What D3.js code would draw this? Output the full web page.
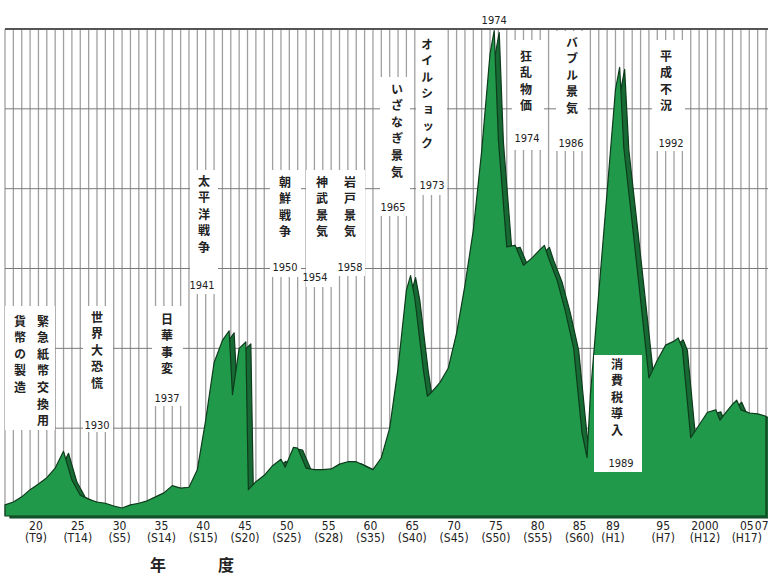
<!DOCTYPE html>
<html>
<head>
<meta charset="utf-8">
<script src="https://cdn.jsdelivr.net/npm/d3@7"></script>
<style>
    body { margin: 0; background: #fff; }
    svg text { font-family: "Liberation Sans Narrow", "DejaVu Sans Condensed", "Liberation Sans", sans-serif; fill: #222; }
    svg text.jp { font-family: "Noto Sans CJK JP", sans-serif; font-weight: bold; }
</style>
</head>
<body>
<div id="field"></div>
<script>

// fiscal year and amount (one grid step = 10)
const years = [1916, 1917, 1918, 1919, 1920, 1921, 1922, 1923, 1924, 1925,
    1926, 1927, 1928, 1929, 1930, 1931, 1932, 1933, 1934, 1935,
    1936, 1937, 1938, 1939, 1940, 1941, 1942, 1942.8, 1943.2, 1944,
    1944.8, 1945.1, 1946, 1947, 1948, 1949, 1949.5, 1950.5, 1951, 1952,
    1953, 1954, 1955, 1956, 1957, 1958, 1959, 1960, 1961, 1962,
    1963, 1964, 1964.5, 1965, 1966, 1966.5, 1967, 1968, 1969, 1970,
    1971, 1972, 1973, 1974, 1974.5, 1975, 1976, 1977, 1978, 1979,
    1980, 1980.5, 1981, 1982, 1983, 1984, 1985, 1985.6, 1986, 1987,
    1988, 1989, 1989.5, 1990, 1991, 1992, 1993, 1994, 1995, 1996,
    1996.5, 1997, 1998, 1999, 2000, 2001, 2001.5, 2002, 2003, 2003.5,
    2004, 2005, 2006, 2007];

const amounts = [0.4, 0.75, 1.4, 2.3, 3.0, 3.8, 5.0, 7.1, 3.5, 1.6,
    1.1, 0.75, 0.6, 0.25, 0.0, 0.4, 0.6, 0.9, 1.4, 1.9,
    2.8, 2.5, 2.6, 4.8, 11.0, 18.2, 21.0, 22.2, 14.2, 20.0,
    20.8, 2.3, 3.3, 4.1, 5.3, 6.1, 5.1, 7.6, 7.5, 5.0,
    4.8, 4.8, 4.9, 5.5, 5.8, 5.8, 5.3, 4.8, 6.3, 10.0,
    17.5, 27.3, 29.1, 26.3, 17.5, 14.0, 14.5, 15.7, 17.5, 21.9,
    27.9, 34.8, 44.7, 56.9, 59.8, 46.1, 32.7, 32.9, 30.4, 31.3,
    32.4, 32.9, 31.3, 28.6, 24.7, 20.0, 9.4, 6.3, 14.2, 26.9,
    39.6, 52.4, 55.2, 45.1, 35.7, 26.1, 16.3, 18.5, 20.4, 20.9,
    21.3, 20.0, 8.8, 10.4, 12.0, 12.3, 11.0, 11.7, 13.0, 13.5,
    12.3, 11.9, 11.8, 11.5];

const tickYears = [1920, 1925, 1930, 1935, 1940, 1945, 1950, 1955, 1960, 1965,
    1970, 1975, 1980, 1985, 1989, 1995, 2000, 2005, 2007];
const tickLabels = ["20", "25", "30", "35", "40", "45", "50", "55", "60", "65",
    "70", "75", "80", "85", "89", "95", "2000", "05", "07"];
const eraLabels = ["(T9)", "(T14)", "(S5)", "(S14)", "(S15)", "(S20)", "(S25)", "(S28)", "(S35)", "(S40)",
    "(S45)", "(S50)", "(S55)", "(S60)", "(H1)", "(H7)", "(H12)", "(H17)", ""];

const gridValues = [10, 20, 30, 40, 50, 60];

const noteTexts = [["緊急紙幣交換用", "貨幣の製造"], ["世界大恐慌"], ["日華事変"], ["太平洋戦争"],
    ["朝鮮戦争"], ["神武景気"], ["岩戸景気"], ["いざなぎ景気"], ["オイルショック"],
    ["狂乱物価"], ["バブル景気"], ["平成不況"], ["消費税導入"]];
const noteYears = ["", "1930", "1937", "1941", "1950", "1954", "1958", "1965", "1973",
    "1974", "1986", "1992", "1989"];
const peakLabel = "1974";

// layout of the white label boxes: box, text columns, top of text, year label position
const noteLayout = [
    {box: [5, 306, 50, 124], cols: [43, 20], top: 315, yx: 0, yy: 0},
    {box: [83, 306, 30, 126], cols: [97], top: 311, yx: 97, yy: 429},
    {box: [152, 306, 31, 100], cols: [167], top: 313, yx: 167, yy: 402},
    {box: [190, 170, 28, 124], cols: [204], top: 175, yx: 202, yy: 289},
    {box: [270, 170, 31, 107], cols: [285], top: 176, yx: 285, yy: 271},
    {box: [306, 170, 29, 117], cols: [322], top: 176, yx: 315, yy: 281},
    {box: [335, 170, 30, 106], cols: [350], top: 176, yx: 350, yy: 271},
    {box: [380, 77, 30, 139], cols: [397], top: 83, yx: 393, yy: 211},
    {box: [416, 30, 31, 165], cols: [427], top: 38, yx: 432, yy: 189},
    {box: [512, 40, 32, 110], cols: [526], top: 50, yx: 527, yy: 142},
    {box: [556, 31, 32, 120], cols: [572], top: 36, yx: 571, yy: 147},
    {box: [652, 40, 33, 111], cols: [666], top: 50, yx: 671, yy: 147},
    {box: [594, 355, 48, 117], cols: [617], top: 358, yx: 621, yy: 467}
];

const width = 768;
const height = 583;
const plotLeft = 5, plotRight = 766, plotTop = 29, plotBottom = 516;

const data = years.map(function(yr, i) { return {year: yr, value: amounts[i]}; });

const x = d3.scaleLinear()
    .domain([1916, 2007])
    .range([plotLeft, plotRight]);

const y = d3.scaleLinear()
    .domain([-1, 60])
    .range([plotBottom, plotTop]);

const chart = d3.select("#field")
    .append("svg")
    .attr("width", width)
    .attr("height", height);

// yearly vertical grid
chart.append("g").selectAll("line")
    .data(d3.range(1916, 2008))
    .enter().append("line")
    .attr("x1", function(d) { return x(d); })
    .attr("x2", function(d) { return x(d); })
    .attr("y1", plotTop)
    .attr("y2", plotBottom)
    .attr("stroke", "#a0a0a0")
    .attr("stroke-width", 1.3);

// horizontal grid
chart.append("g").selectAll("line")
    .data(gridValues)
    .enter().append("line")
    .attr("x1", plotLeft)
    .attr("x2", width)
    .attr("y1", function(d) { return y(d); })
    .attr("y2", function(d) { return y(d); })
    .attr("stroke", function(d) { return d === 60 ? "#555" : "#7a7a7a"; })
    .attr("stroke-width", function(d) { return d === 60 ? 2 : 1; });

const area = d3.area()
    .x(function(d) { return x(d.year); })
    .y0(y(-1))
    .y1(function(d) { return y(d.value); });

// dark side face, pushed right and down
chart.append("path")
    .datum(data)
    .attr("transform", "translate(5,2)")
    .attr("d", area)
    .attr("fill", "#176a34")
    .attr("stroke", "#0e3b1c")
    .attr("stroke-width", 1.2)
    .attr("stroke-linejoin", "round");

chart.append("path")
    .datum(data)
    .attr("d", area)
    .attr("fill", "#20994a")
    .attr("stroke", "#0e3b1c")
    .attr("stroke-width", 1.2)
    .attr("stroke-linejoin", "round");

// x axis
const xAxis = d3.axisBottom(x)
    .tickValues(tickYears)
    .tickFormat(function(d, i) { return tickLabels[i]; })
    .tickSize(0)
    .tickPadding(5);

const axisG = chart.append("g")
    .attr("transform", "translate(0," + plotBottom + ")")
    .call(xAxis);

axisG.select(".domain").remove();
axisG.attr("font-family", null).attr("font-size", null);
axisG.selectAll("text")
    .attr("x", -3)
    .attr("font-size", 12);

axisG.selectAll(".tick")
    .append("text")
    .attr("x", -3)
    .attr("y", 26)
    .attr("text-anchor", "middle")
    .attr("font-size", 12)
    .text(function(d, i) { return eraLabels[i]; });

// last label sits against the right edge
axisG.selectAll(".tick").filter(function(d) { return d === 2007; })
    .select("text")
    .attr("x", 2)
    .attr("text-anchor", "end");

chart.append("text")
    .attr("class", "jp")
    .attr("x", 158)
    .attr("y", 571)
    .attr("text-anchor", "middle")
    .attr("font-size", 16)
    .text("年");

chart.append("text")
    .attr("class", "jp")
    .attr("x", 226)
    .attr("y", 571)
    .attr("text-anchor", "middle")
    .attr("font-size", 16)
    .text("度");

chart.append("text")
    .attr("x", x(1974.5))
    .attr("y", 24)
    .attr("text-anchor", "middle")
    .attr("font-size", 11)
    .text(peakLabel);

// event labels
const notes = chart.append("g").selectAll("g")
    .data(noteLayout)
    .enter().append("g");

notes.append("rect")
    .attr("x", function(d) { return d.box[0]; })
    .attr("y", function(d) { return d.box[1]; })
    .attr("width", function(d) { return d.box[2]; })
    .attr("height", function(d) { return d.box[3]; })
    .attr("fill", "#fff");

notes.each(function(d, i) {
    const g = d3.select(this);
    noteTexts[i].forEach(function(t, j) {
        g.append("text")
            .attr("class", "jp")
            .attr("x", d.cols[j])
            .attr("y", d.top)
            .attr("font-size", 12)
            .style("writing-mode", "vertical-rl")
            .style("letter-spacing", "4.6px")
            .text(t);
    });
    if (noteYears[i]) {
        g.append("text")
            .attr("x", d.yx)
            .attr("y", d.yy)
            .attr("text-anchor", "middle")
            .attr("font-size", 11)
            .text(noteYears[i]);
    }
});

</script>
</body>
</html>
